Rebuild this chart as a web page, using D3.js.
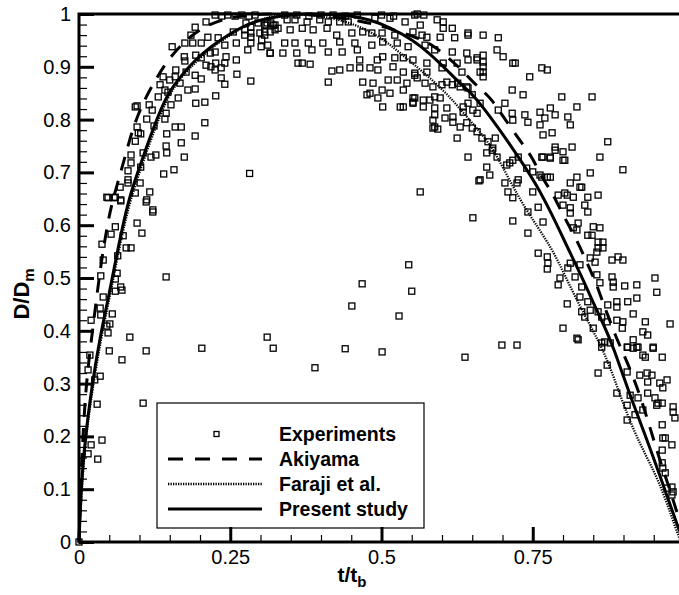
<!DOCTYPE html>
<meta charset="utf-8">
<style>
body { margin: 0; background: #fff; }
svg { display: block; }
text { font-family: "Liberation Sans", Arial, Helvetica, sans-serif; fill: #000; }
.pt { fill: none; stroke: #000; stroke-width: 1.3px; }
.curve { fill: none; stroke: #000; }
</style>
<svg width="679" height="595"></svg>
<script src="https://d3js.org/d3.v7.min.js"></script>
<script>

// tick values and labels
var yTicks = [0, 0.1, 0.2, 0.3, 0.4, 0.5, 0.6, 0.7, 0.8, 0.9, 1];
var yTickLabels = ["0", "0.1", "0.2", "0.3", "0.4", "0.5", "0.6", "0.7", "0.8", "0.9", "1"];
var xTicks = [0, 0.25, 0.5, 0.75];
var xTickLabels = ["0", "0.25", "0.5", "0.75"];
var legendNames = ["Experiments", "Akiyama", "Faraji et al.", "Present study"];

// experiments, [t/tb, D/Dm]
var experiments = [
  [0,0],[0.030,0.261],[0.106,0.263],[0.020,0.184],[0.038,0.193],[0.015,0.167],[0.031,0.157],
  [0.069,0.648],[0.111,0.644],[0.122,0.625],[0.096,0.604],[0.060,0.597],[0.104,0.585],[0.038,0.564],
  [0.053,0.583],[0.073,0.580],[0.078,0.557],[0.086,0.557],[0.064,0.542],[0.040,0.534],[0.063,0.509],
  [0.036,0.504],[0.060,0.498],[0.144,0.502],[0.069,0.483],[0.071,0.477],[0.060,0.475],[0.040,0.464],
  [0.035,0.443],[0.055,0.432],[0.020,0.420],[0.036,0.430],[0.051,0.413],[0.046,0.409],[0.048,0.396],
  [0.084,0.388],[0.018,0.354],[0.050,0.362],[0.111,0.362],[0.071,0.345],[0.035,0.314],[0.015,0.326],
  [0.026,0.307],
  [0.192,0.975],[0.210,0.985],[0.154,0.938],[0.185,0.960],[0.175,0.945],[0.188,0.945],[0.202,0.945],
  [0.213,0.956],[0.174,0.919],[0.175,0.911],[0.193,0.922],[0.202,0.917],[0.217,0.926],[0.225,0.928],
  [0.241,0.941],[0.243,0.919],[0.260,0.945],[0.284,0.945],[0.241,0.907],[0.260,0.913],[0.279,0.932],
  [0.316,0.926],[0.301,0.938],[0.309,0.979],[0.317,0.983],[0.284,0.964],[0.274,0.970],[0.299,0.964],
  [0.255,0.966],[0.230,0.955],[0.210,0.903],[0.218,0.900],[0.226,0.907],[0.235,0.898],[0.225,0.894],
  [0.202,0.877],[0.192,0.884],[0.177,0.890],[0.235,0.879],[0.261,0.886],[0.241,0.867],[0.284,0.873],
  [0.180,0.856],[0.192,0.858],[0.167,0.869],[0.160,0.894],[0.159,0.881],[0.139,0.881],[0.150,0.875],
  [0.134,0.866],[0.142,0.856],[0.147,0.852],[0.164,0.841],[0.131,0.843],[0.226,0.845],[0.208,0.833],
  [0.193,0.831],[0.152,0.828],[0.093,0.824],[0.116,0.828],[0.121,0.818],[0.144,0.812],[0.112,0.801],
  [0.142,0.801],[0.208,0.794],[0.159,0.786],[0.169,0.786],[0.124,0.788],[0.096,0.786],[0.102,0.773],
  [0.098,0.775],[0.145,0.773],[0.192,0.769],[0.093,0.759],[0.169,0.756],[0.144,0.750],[0.145,0.737],
  [0.127,0.733],[0.119,0.729],[0.086,0.733],[0.106,0.737],[0.174,0.729],[0.086,0.718],[0.102,0.710],
  [0.081,0.703],[0.282,0.698],[0.157,0.705],[0.140,0.697],[0.081,0.686],[0.081,0.680],[0.101,0.680],
  [0.068,0.672],[0.117,0.663],[0.093,0.661],[0.048,0.652],[0.058,0.652],[0.069,0.646],[0.112,0.648],
  [0.122,0.629],[0.096,0.826],[0.046,0.653],[0.060,0.653],
  [0.225,0.998],[0.236,0.996],[0.246,0.998],[0.258,0.996],[0.269,0.998],[0.281,0.996],[0.291,0.998],
  [0.276,0.983],[0.284,0.975],[0.296,0.983],[0.307,0.979],[0.321,0.979],[0.316,0.966],[0.324,0.970],
  [0.274,0.960],[0.284,0.956],[0.307,0.960],[0.302,0.951],
  [0.311,0.983],[0.324,0.979],[0.344,0.989],[0.357,0.989],[0.377,0.985],[0.398,0.989],[0.412,0.985],
  [0.431,0.985],[0.445,0.985],[0.489,0.992],[0.514,0.992],[0.539,0.985],[0.564,0.979],[0.592,0.989],
  [0.602,0.985],
  [0.34,0.998],[0.36,0.998],[0.38,0.996],[0.40,0.998],[0.42,0.998],[0.44,0.996],[0.46,0.998],
  [0.50,0.998],[0.52,0.996],[0.555,0.998],[0.57,0.998],
  [0.307,0.966],[0.329,0.973],[0.349,0.970],[0.369,0.973],[0.387,0.970],[0.410,0.973],[0.426,0.960],
  [0.451,0.964],[0.469,0.966],[0.484,0.964],[0.501,0.964],[0.522,0.960],[0.552,0.966],[0.567,0.960],
  [0.575,0.956],[0.597,0.956],[0.621,0.955],[0.643,0.960],[0.602,0.973],
  [0.312,0.941],[0.340,0.945],[0.357,0.945],[0.379,0.945],[0.403,0.945],[0.431,0.947],[0.456,0.945],
  [0.484,0.941],[0.502,0.947],[0.526,0.945],[0.544,0.938],[0.572,0.941],[0.588,0.932],[0.617,0.928],
  [0.641,0.926],[0.658,0.917],
  [0.316,0.926],[0.337,0.926],[0.360,0.926],[0.385,0.932],[0.412,0.928],[0.435,0.928],[0.460,0.932],
  [0.464,0.913],[0.493,0.913],[0.502,0.919],[0.522,0.917],[0.536,0.917],[0.552,0.913],[0.575,0.907],
  [0.602,0.907],[0.625,0.907],
  [0.362,0.907],[0.369,0.907],[0.382,0.905],[0.418,0.892],[0.431,0.894],[0.448,0.898],[0.464,0.898],
  [0.481,0.898],[0.494,0.894],[0.519,0.900],[0.536,0.890],[0.555,0.888],[0.575,0.890],[0.600,0.898],
  [0.633,0.890],
  [0.412,0.871],[0.469,0.871],[0.486,0.869],[0.501,0.856],[0.511,0.875],[0.526,0.875],[0.542,0.869],
  [0.555,0.884],[0.559,0.879],[0.572,0.869],[0.585,0.862],[0.600,0.866],[0.617,0.866],[0.630,0.862],
  [0.643,0.860],
  [0.476,0.847],[0.481,0.850],[0.494,0.841],[0.514,0.850],[0.536,0.856],[0.552,0.841],[0.569,0.837],
  [0.588,0.843],[0.597,0.841],[0.502,0.824],[0.531,0.824],[0.552,0.831],[0.569,0.824],[0.588,0.822],
  [0.608,0.822],[0.635,0.824],[0.651,0.818],
  [0.585,0.799],[0.605,0.803],[0.618,0.795],[0.588,0.786],[0.630,0.786],
  [0.559,1.0],[0.617,0.973],[0.643,0.964],[0.668,0.960],[0.693,0.955],[0.691,0.932],[0.701,0.919],
  [0.717,0.907],[0.721,0.907],[0.668,0.922],[0.668,0.909],[0.668,0.900],[0.668,0.890],[0.668,0.881],
  [0.658,0.913],[0.643,0.913],[0.663,0.890],[0.745,0.881],[0.765,0.898],[0.774,0.894],[0.734,0.847],
  [0.716,0.856],[0.798,0.843],[0.848,0.843],[0.823,0.824],[0.779,0.822],[0.787,0.809],[0.762,0.814],
  [0.762,0.790],[0.770,0.803],[0.808,0.805],[0.812,0.790],[0.742,0.795],[0.737,0.809],[0.716,0.812],
  [0.717,0.799],[0.704,0.831],[0.693,0.818],[0.767,0.771],[0.782,0.775],[0.787,0.748],[0.787,0.742],
  [0.800,0.739],[0.815,0.748],[0.874,0.758],[0.779,0.727],[0.767,0.729],[0.803,0.723],[0.861,0.729],
  [0.845,0.699],[0.899,0.705],[0.823,0.691],[0.831,0.672],[0.812,0.680],[0.817,0.653],[0.807,0.657],
  [0.841,0.653],[0.858,0.657],[0.762,0.695],[0.774,0.691],[0.750,0.701],[0.740,0.708],[0.726,0.729],
  [0.712,0.718],[0.707,0.714],[0.683,0.742],[0.684,0.746],[0.691,0.729],[0.674,0.710],[0.679,0.695],
  [0.663,0.686],[0.643,0.729],[0.625,0.765],[0.564,0.663],[0.704,0.680],[0.709,0.663],[0.724,0.680],
  [0.717,0.652],[0.688,0.765],[0.676,0.758],[0.666,0.765],[0.658,0.777],[0.650,0.784],[0.641,0.794],
  [0.618,0.805],[0.588,0.809],[0.585,0.784],[0.593,0.782],[0.635,0.814],[0.643,0.831],[0.658,0.812],
  [0.663,0.831],[0.650,0.847],[0.641,0.862],[0.626,0.869],[0.608,0.871],[0.580,0.837],[0.555,0.841],
  [0.552,0.833],[0.536,0.824],
  [0.674,0.737],[0.717,0.723],[0.726,0.686],[0.661,0.684],[0.651,0.614],[0.717,0.608],[0.742,0.585],
  [0.759,0.547],[0.774,0.540],[0.775,0.528],[0.774,0.517],[0.742,0.625],[0.759,0.634],[0.767,0.606],
  [0.750,0.663],[0.765,0.729],[0.779,0.729],[0.800,0.723],[0.765,0.691],[0.779,0.691],[0.792,0.657],
  [0.803,0.661],[0.828,0.672],[0.836,0.638],[0.841,0.625],[0.812,0.633],[0.812,0.623],[0.800,0.638],
  [0.825,0.604],[0.817,0.595],[0.823,0.591],[0.850,0.597],[0.861,0.595],[0.841,0.581],[0.848,0.581],
  [0.858,0.568],[0.866,0.568],[0.858,0.557],[0.866,0.557],[0.856,0.549],[0.853,0.530],[0.845,0.538],
  [0.881,0.534],[0.891,0.540],[0.899,0.534],[0.812,0.528],[0.808,0.519],[0.828,0.525],[0.795,0.500],
  [0.792,0.487],[0.820,0.502],[0.831,0.483],[0.856,0.506],[0.861,0.491],[0.881,0.502],[0.883,0.492],
  [0.883,0.483],[0.902,0.485],[0.922,0.487],[0.952,0.500],[0.955,0.473],[0.922,0.462],[0.907,0.455],
  [0.889,0.455],[0.889,0.445],[0.874,0.449],[0.916,0.432],[0.936,0.417],[0.977,0.413],[0.889,0.420],
  [0.899,0.417],[0.898,0.405],[0.873,0.417],[0.858,0.436],[0.864,0.426],[0.841,0.455],[0.828,0.464],
  [0.845,0.439],[0.831,0.436],[0.836,0.426],[0.807,0.451],[0.800,0.405],[0.823,0.386],[0.850,0.405],
  [0.932,0.398],[0.940,0.392],[0.916,0.383],[0.906,0.369],[0.922,0.369],[0.949,0.369],[0.869,0.379],
  [0.864,0.369],[0.699,0.373],[0.724,0.373],
  [0.825,0.383],[0.864,0.377],[0.878,0.377],[0.907,0.369],[0.916,0.367],[0.924,0.369],[0.949,0.367],
  [0.932,0.354],[0.936,0.350],[0.964,0.350],[0.873,0.335],[0.858,0.320],[0.906,0.322],[0.927,0.316],
  [0.939,0.320],[0.947,0.316],[0.940,0.303],[0.960,0.301],[0.972,0.307],[0.965,0.292],[0.889,0.282],
  [0.911,0.278],[0.924,0.273],[0.940,0.282],[0.952,0.273],[0.957,0.263],[0.955,0.259],[0.964,0.263],
  [0.982,0.256],[0.982,0.246],[0.985,0.235],[0.906,0.259],[0.919,0.241],[0.932,0.250],[0.906,0.231],
  [0.964,0.222],[0.965,0.197],[0.969,0.197],[0.980,0.184],[0.964,0.174],[0.964,0.150],[0.965,0.140],
  [0.969,0.131],[0.980,0.104],[0.982,0.095],[0.980,0.089],[0.972,0.102],
  [0.545,0.525],[0.468,0.489],[0.550,0.475],[0.451,0.447],[0.529,0.428],[0.311,0.388],[0.321,0.367],
  [0.203,0.367],[0.440,0.366],[0.501,0.360],[0.390,0.330],[0.638,0.350]
];

var akiyama = [
  [0,0],[0.003,0.12],[0.008,0.231],[0.013,0.316],[0.025,0.424],[0.036,0.527],[0.051,0.629],
  [0.064,0.680],[0.076,0.729],[0.089,0.784],[0.106,0.833],[0.126,0.875],[0.150,0.919],[0.185,0.960],
  [0.218,0.983],[0.26,0.996],[0.30,1.0],[0.35,1.0],[0.40,0.998],[0.45,0.99],[0.50,0.978],[0.54,0.962],
  [0.569,0.951],[0.583,0.941],[0.602,0.926],[0.618,0.909],[0.633,0.894],[0.651,0.871],[0.666,0.856],
  [0.683,0.837],[0.696,0.814],[0.715,0.783],[0.734,0.752],[0.749,0.729],[0.767,0.686],[0.782,0.663],
  [0.800,0.619],[0.823,0.572],[0.840,0.528],[0.855,0.49],[0.866,0.453],[0.874,0.430],[0.883,0.402],
  [0.891,0.379],[0.906,0.341],[0.922,0.295],[0.936,0.246],[0.949,0.197],[0.962,0.148],[0.977,0.098],
  [0.99,0.05],[1.0,0.015]
];

var faraji = [
  [0,0],[0.004,0.09],[0.009,0.17],[0.016,0.24],[0.025,0.307],[0.037,0.39],[0.052,0.47],[0.067,0.56],
  [0.084,0.645],[0.10,0.70],[0.117,0.756],[0.133,0.805],[0.150,0.85],[0.172,0.885],[0.197,0.913],
  [0.223,0.94],[0.25,0.96],[0.275,0.978],[0.30,0.99],[0.33,0.998],[0.36,1.0],[0.39,0.998],[0.42,0.992],
  [0.46,0.979],[0.50,0.955],[0.531,0.926],[0.569,0.890],[0.608,0.850],[0.641,0.805],[0.679,0.756],
  [0.705,0.70],[0.729,0.648],[0.756,0.60],[0.783,0.553],[0.803,0.505],[0.823,0.458],[0.845,0.41],
  [0.866,0.364],[0.885,0.31],[0.901,0.256],[0.925,0.19],[0.952,0.131],[0.97,0.08],[0.987,0.023],
  [0.995,0]
];

var present = [
  [0,0],[0.003,0.09],[0.008,0.17],[0.015,0.24],[0.023,0.307],[0.035,0.39],[0.05,0.47],[0.065,0.56],
  [0.081,0.645],[0.097,0.70],[0.114,0.756],[0.13,0.805],[0.147,0.85],[0.17,0.885],[0.192,0.913],
  [0.22,0.94],[0.246,0.960],[0.27,0.976],[0.296,0.988],[0.33,0.996],[0.365,1.0],[0.40,1.0],[0.44,0.998],
  [0.481,0.99],[0.515,0.974],[0.552,0.951],[0.58,0.925],[0.608,0.894],[0.63,0.868],[0.651,0.848],
  [0.68,0.805],[0.71,0.757],[0.735,0.714],[0.757,0.675],[0.782,0.62],[0.807,0.559],[0.83,0.505],
  [0.850,0.453],[0.868,0.41],[0.883,0.37],[0.91,0.28],[0.94,0.19],[0.965,0.11],[0.99,0.028],[1.0,0]
];

var svg = d3.select("svg");
var x = d3.scaleLinear().domain([0, 1]).range([79, 684]);
var y = d3.scaleLinear().domain([0, 1]).range([542, 14]);

// scatter
svg.append("g").selectAll("rect")
    .data(experiments)
  .enter().append("rect")
    .attr("class", "pt")
    .attr("x", function(d) { return x(d[0]) - 3; })
    .attr("y", function(d) { return y(d[1]) - 3; })
    .attr("width", 6)
    .attr("height", 6);

var line = d3.line()
    .x(function(d) { return x(d[0]); })
    .y(function(d) { return y(d[1]); })
    .curve(d3.curveBasis);

svg.append("path").datum(akiyama).attr("class", "curve")
    .attr("d", line).attr("stroke-width", 3).attr("stroke-dasharray", "14,11");
svg.append("path").datum(faraji).attr("class", "curve")
    .attr("d", line).attr("stroke-width", 2.3).attr("stroke-dasharray", "1.3,1.2");
svg.append("path").datum(present).attr("class", "curve")
    .attr("d", line).attr("stroke-width", 3);

// legend
var lg = svg.append("g");
lg.append("rect").attr("x", 157).attr("y", 403).attr("width", 267).attr("height", 125)
    .attr("fill", "#fff").attr("stroke", "#000").attr("stroke-width", 1.2);
var rowY = function(i) { return 434 + i * 25; };
lg.append("rect").attr("class", "pt").attr("x", 214).attr("y", rowY(0) - 2.5)
    .attr("width", 5).attr("height", 5);
lg.append("line").attr("x1", 168).attr("x2", 262).attr("y1", rowY(1)).attr("y2", rowY(1))
    .attr("stroke", "#000").attr("stroke-width", 3).attr("stroke-dasharray", "15,12");
lg.append("line").attr("x1", 168).attr("x2", 262).attr("y1", rowY(2)).attr("y2", rowY(2))
    .attr("stroke", "#000").attr("stroke-width", 2.3).attr("stroke-dasharray", "1.3,1.2");
lg.append("line").attr("x1", 168).attr("x2", 262).attr("y1", rowY(3)).attr("y2", rowY(3))
    .attr("stroke", "#000").attr("stroke-width", 3);
lg.selectAll("text.lab").data(legendNames).enter().append("text")
    .attr("class", "lab")
    .attr("x", 279).attr("y", function(d, i) { return rowY(i) + 7; })
    .attr("font-size", 19.5).attr("font-weight", "bold")
    .text(function(d) { return d; });

// axes
var yAxis = d3.axisLeft(y)
    .tickValues(yTicks)
    .tickFormat(function(d, i) { return yTickLabels[i]; })
    .tickSize(-15).tickSizeOuter(0).tickPadding(8);
var yMinor = d3.axisLeft(y)
    .tickValues(d3.range(0, 1.0001, 0.02))
    .tickFormat("").tickSize(-8).tickSizeOuter(0);
var xAxis = d3.axisBottom(x)
    .tickValues(xTicks)
    .tickFormat(function(d, i) { return xTickLabels[i]; })
    .tickSize(-15).tickSizeOuter(0).tickPadding(8);
var xMinor = d3.axisBottom(x)
    .tickValues(d3.range(0, 1.0001, 0.05))
    .tickFormat("").tickSize(-7).tickSizeOuter(0);

var gy = svg.append("g").attr("transform", "translate(79,0)");
gy.call(yMinor);
gy.selectAll(".tick line").attr("stroke-width", 1.2);
var gyM = svg.append("g").attr("transform", "translate(79,0)").call(yAxis);
gyM.selectAll(".tick line").attr("stroke-width", 3);
gyM.selectAll(".tick text").attr("font-size", 20).attr("font-family", null);

var gx = svg.append("g").attr("transform", "translate(0,542)");
gx.call(xMinor);
gx.selectAll(".tick line").attr("stroke-width", 1.2);
var gxM = svg.append("g").attr("transform", "translate(0,542)").call(xAxis);
gxM.selectAll(".tick line").attr("stroke-width", 3);
gxM.selectAll(".tick text").attr("font-size", 20).attr("font-family", null);
svg.selectAll(".domain").remove();

// frame
svg.append("path")
    .attr("d", "M" + x(0) + "," + y(0) + "V" + y(1) + "H" + x(1) + "V" + y(0) + "Z")
    .attr("fill", "none").attr("stroke", "#000").attr("stroke-width", 3);

// axis titles
var yt = svg.append("text")
    .attr("transform", "translate(29,294) rotate(-90)")
    .attr("text-anchor", "middle").attr("font-size", 22).attr("font-weight", "bold");
yt.append("tspan").text("D/D");
yt.append("tspan").attr("font-size", 15).attr("dy", 5).text("m");

var xt = svg.append("text")
    .attr("x", 352).attr("y", 582)
    .attr("text-anchor", "middle").attr("font-size", 21).attr("font-weight", "bold");
xt.append("tspan").text("t/t");
xt.append("tspan").attr("font-size", 15).attr("dy", 5).text("b");

</script>
